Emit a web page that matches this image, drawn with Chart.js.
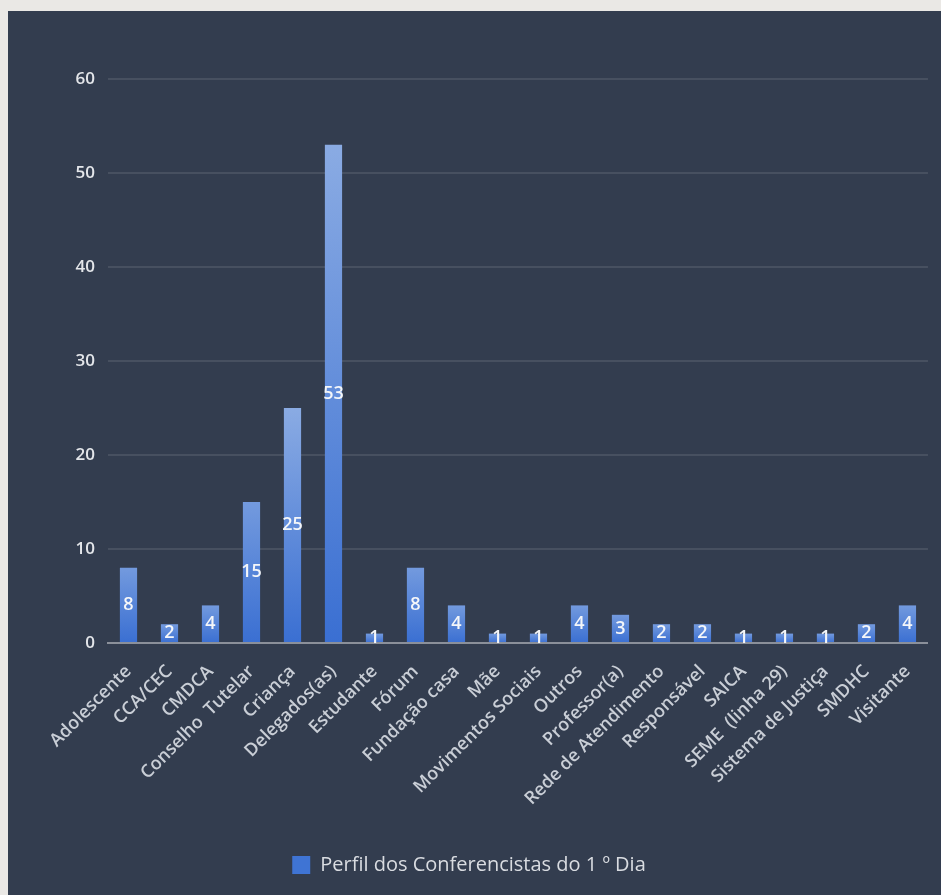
<!DOCTYPE html>
<html><head><meta charset="utf-8">
<script src="https://cdn.jsdelivr.net/npm/chart.js@4"></script>
<style>
html,body{margin:0;padding:0;background:#eae8e5;}
#panel{position:absolute;left:8px;top:11px;width:933px;height:884px;background:#333d4f;}
canvas{display:block;}
</style></head><body>
<div id="panel"><canvas id="c" width="933" height="884"></canvas></div>
<script>
const categories = ["Adolescente","CCA/CEC","CMDCA","Conselho  Tutelar","Criança","Delegados(as)","Estudante","Fórum","Fundação casa","Mãe","Movimentos Sociais","Outros","Professor(a)","Rede de Atendimento","Responsável","SAICA","SEME  (linha 29)","Sistema de Justiça","SMDHC","Visitante"];
const values = [8,2,4,15,25,53,1,8,4,1,1,4,3,2,2,1,1,1,2,4];
const seriesName = "Perfil dos Conferencistas do 1 º Dia";
const yTicks = [0,10,20,30,40,50,60];

function barFill(ctx){
  const chart = ctx.chart;
  const y = chart.scales && chart.scales.y;
  if(!chart.chartArea || !y || ctx.dataIndex === undefined) return '#3f74d4';
  const v = ctx.dataset.data[ctx.dataIndex];
  const top = y.getPixelForValue(v), base = y.getPixelForValue(0);
  if(!(base - top > 0)) return '#3f74d4';
  const g = chart.ctx.createLinearGradient(0, top, 0, base);
  const light = Math.min(1, (base-top)/300);
  g.addColorStop(0, light > 0.5 ? '#8aabe3' : '#739ade');
  g.addColorStop(1, '#3a6fd2');
  return g;
}

const labelPlugin = {
  id:'vals',
  afterDatasetsDraw(chart){
    const c = chart.ctx;
    const meta = chart.getDatasetMeta(0);
    c.save();
    c.font = '600 18px "Open Sans"';
    c.fillStyle = '#f4f6f9';
    c.textAlign = 'center';
    c.textBaseline = 'middle';
    meta.data.forEach((bar,i)=>{
      const mid = (bar.y + bar.base)/2;
      c.fillText(String(values[i]), bar.x, mid);
    });
    c.restore();
  }
};

new Chart(document.getElementById('c'), {
  type:'bar',
  data:{labels:categories, datasets:[{label:seriesName, data:values, backgroundColor:barFill, borderWidth:0, categoryPercentage:1, barPercentage:0.42}]},
  options:{
    responsive:false, animation:false,
    layout:{padding:{top:68,right:11,bottom:10,left:0}},
    plugins:{
      legend:{position:'bottom', labels:{color:'#d9dce1', font:{family:'"Open Sans"', size:20, weight:'500'}, boxWidth:18, boxHeight:18, padding:8, generateLabels:(ch)=>[{text:seriesName, fillStyle:'#3f74d4', strokeStyle:'#3f74d4', lineWidth:0, fontColor:'#d9dce1'}]}},
      tooltip:{enabled:false}
    },
    scales:{
      x:{
        grid:{display:false, drawTicks:false},
        border:{display:true, color:'#8b909a', width:2},
        ticks:{color:'#c9ced6', font:{family:'"Open Sans"', size:18, weight:'600'}, minRotation:45, maxRotation:45, padding:18, autoSkip:false},
        afterFit:(s)=>{s.height=204;}
      },
      y:{
        min:0, max:60,
        afterBuildTicks:(s)=>{s.ticks = yTicks.map(v=>({value:v}));},
        grid:{color:'rgba(255,255,255,0.10)', lineWidth:2, drawTicks:false},
        border:{display:false},
        ticks:{color:'#e4e6ea', font:{family:'"Open Sans"', size:17, weight:'600'}, padding:13},
        afterFit:(s)=>{s.width=100;}
      }
    }
  },
  plugins:[labelPlugin]
});
</script>
</body></html>
